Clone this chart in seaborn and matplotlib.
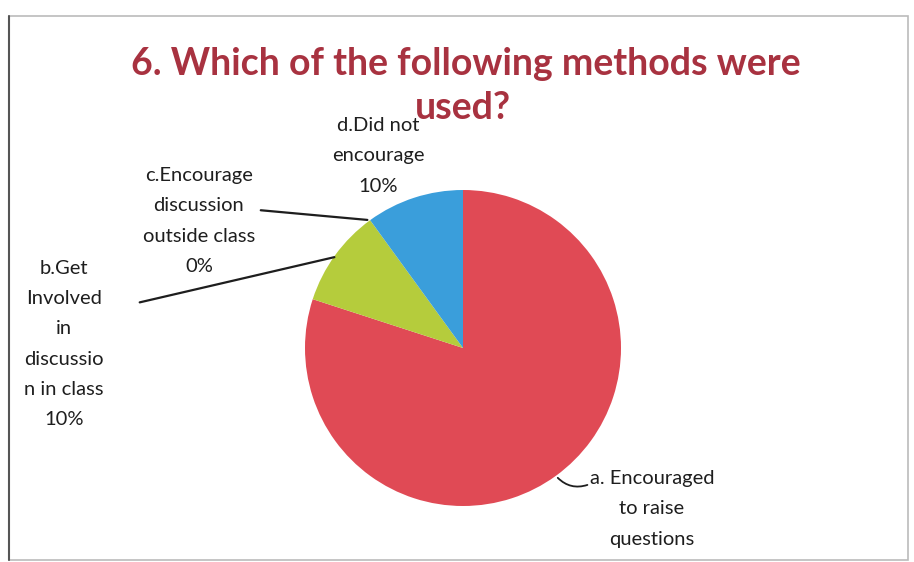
import numpy as np
import seaborn as sns
import matplotlib.pyplot as plt
from matplotlib.patches import Rectangle

# data
labels = ['a. Encouraged\nto raise\nquestions',
          'b.Get\nInvolved\nin\ndiscussio\nn in class\n10%',
          'c.Encourage\ndiscussion\noutside class\n0%',
          'd.Did not\nencourage\n10%']
shares = [80, 10, 0, 10]
colors = ['#E04A55', '#B5CC3C', '#8DC63F', '#3A9EDB']
title = '6. Which of the following methods were\nused?'

sns.set_theme(style='white')
plt.rcParams['font.family'] = ['Lato', 'DejaVu Sans']

W, H = 914, 562
fig = plt.figure(figsize=(W / 100, H / 100), dpi=100)
ax = fig.add_axes([0, 0, 1, 1])

cx, cy, r = 463, H - 348, 158
wedges, _ = ax.pie(shares, colors=colors, startangle=90, counterclock=False,
                   center=(cx, cy), radius=r, frame=True,
                   wedgeprops=dict(edgecolor='none'))
ax.set_xlim(0, W)
ax.set_ylim(0, H)
ax.set_aspect('equal')
ax.axis('off')


def edge_point(w, k=1.0):
    ang = np.deg2rad((w.theta1 + w.theta2) / 2)
    return cx + k * r * np.cos(ang), cy + k * r * np.sin(ang)


txt = dict(fontsize=14.5, color='#1E1E1E', ha='center', va='center',
           linespacing=1.95)
line = dict(arrowstyle='-', color='#1E1E1E', lw=1.6)

# a
ax.text(652, H - 509, labels[0], **txt)
ax.annotate('', xy=edge_point(wedges[0], 1.0), xytext=(590, H - 484),
            arrowprops=dict(line, lw=1.3, connectionstyle='arc3,rad=-0.35'))
# b
ax.text(64, H - 344, labels[1], **txt)
ax.annotate('', xy=edge_point(wedges[1], 0.985), xytext=(137, H - 303),
            arrowprops=line)
# c
ax.text(199, H - 221, labels[2], **txt)
ax.annotate('', xy=edge_point(wedges[2], 1.0), xytext=(258, H - 210),
            arrowprops=line)
# d
ax.text(378, H - 156, labels[3], **txt)

# title
t1, t2 = title.split('\n')
tkw = dict(fontsize=27, color='#A83240', ha='center', va='baseline',
           fontweight='bold')
ax.text(466, H - 75, t1, **tkw)
ax.text(463, H - 119, t2, **tkw)

# chart frame
ax.add_patch(Rectangle((9, 2), 899, H - 18, fill=False, edgecolor='#BBBBBB',
                       lw=1.2))
ax.plot([9, 9], [2, H - 16], color='#555555', lw=1.5)

fig.savefig('out.png', dpi=100)
